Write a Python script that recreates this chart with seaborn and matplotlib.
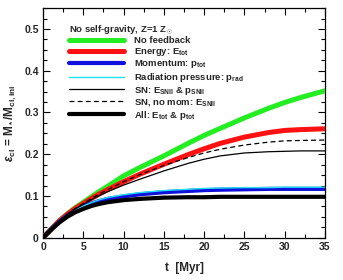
import numpy as np
import pandas as pd
import matplotlib
matplotlib.use("Agg")
import matplotlib.pyplot as plt
import seaborn as sns
from matplotlib.ticker import MultipleLocator, FixedLocator, FixedFormatter

# ---- data ----
t = [0, 1, 2, 3, 4, 5, 6, 7, 8, 10, 12, 15, 18, 20, 22, 25, 28, 30, 32, 35]
no_feedback = [0, 0.020, 0.040, 0.057, 0.072, 0.085, 0.098, 0.111, 0.123, 0.148, 0.168,
               0.196, 0.226, 0.245, 0.262, 0.287, 0.310, 0.324, 0.336, 0.352]
energy = [0, 0.020, 0.040, 0.056, 0.070, 0.082, 0.094, 0.105, 0.115, 0.134, 0.152,
          0.176, 0.199, 0.213, 0.226, 0.241, 0.252, 0.257, 0.259, 0.261]
momentum = [0, 0.020, 0.038, 0.053, 0.065, 0.074, 0.082, 0.088, 0.093, 0.099, 0.104,
            0.109, 0.112, 0.114, 0.115, 0.116, 0.117, 0.117, 0.117, 0.117]
radiation = [0, 0.020, 0.039, 0.054, 0.066, 0.076, 0.084, 0.091, 0.096, 0.103, 0.108,
             0.113, 0.116, 0.118, 0.119, 0.120, 0.120, 0.121, 0.121, 0.121]
sn_both = [0, 0.020, 0.039, 0.055, 0.069, 0.080, 0.091, 0.101, 0.110, 0.126, 0.140,
           0.160, 0.178, 0.188, 0.196, 0.203, 0.206, 0.207, 0.208, 0.208]
sn_nomom = [0, 0.020, 0.040, 0.056, 0.070, 0.082, 0.094, 0.105, 0.115, 0.134, 0.151,
            0.173, 0.192, 0.203, 0.212, 0.222, 0.229, 0.232, 0.233, 0.234]
all_fb = [0, 0.019, 0.036, 0.050, 0.061, 0.069, 0.076, 0.081, 0.085, 0.090, 0.093,
          0.096, 0.097, 0.097, 0.098, 0.098, 0.098, 0.098, 0.098, 0.098]

labels = ["No feedback", r"Energy: E$_{\rm tot}$", r"Momentum: p$_{\rm tot}$",
          r"Radiation pressure: p$_{\rm rad}$", r"SN: E$_{\rm SNII}$ & p$_{\rm SNII}$",
          r"SN, no mom: E$_{\rm SNII}$", r"All: E$_{\rm tot}$ & p$_{\rm tot}$"]
series = [no_feedback, energy, momentum, radiation, sn_both, sn_nomom, all_fb]
colors = ["#22ee22", "#ff1111", "#1111dd", "#22e0f0", "black", "black", "black"]
widths = [3.6, 3.6, 3.0, 1.0, 0.9, 0.9, 3.0]
styles = ["-", "-", "-", "-", "-", (0, (4, 2.5)), "-"]

xticks = [0, 5, 10, 15, 20, 25, 30, 35]
yticks = [0, 0.1, 0.2, 0.3, 0.4, 0.5]
yticklabels = ["0", "0.1", "0.2", "0.3", "0.4", "0.5"]

# ---- style ----
sns.set_style("ticks")
plt.rcParams["font.family"] = ["Liberation Sans", "DejaVu Sans"]
plt.rcParams["font.weight"] = "bold"
plt.rcParams["mathtext.fontset"] = "custom"
plt.rcParams["mathtext.rm"] = "Liberation Sans:bold"
plt.rcParams["mathtext.it"] = "Liberation Sans:italic:bold"
plt.rcParams["mathtext.bf"] = "Liberation Sans:bold"

fig = plt.figure(figsize=(3.43, 2.80), dpi=100)
ax = fig.add_axes([0.1254, 0.151, 0.822, 0.820])

order = [0, 1, 5, 4, 6, 2, 3]
for i in order:
    df = pd.DataFrame({"t": t, "v": series[i]})
    sns.lineplot(data=df, x="t", y="v", ax=ax, color=colors[i], linewidth=widths[i],
                 linestyle=styles[i], label=labels[i], zorder=3 + i * 0.1)

ax.set_xlim(0, 35)
ax.set_ylim(0, 0.55)
ax.xaxis.set_major_locator(FixedLocator(xticks))
ax.xaxis.set_minor_locator(MultipleLocator(2.5))
ax.yaxis.set_major_locator(FixedLocator(yticks))
ax.yaxis.set_major_formatter(FixedFormatter(yticklabels))
ax.yaxis.set_minor_locator(MultipleLocator(0.025))
ax.tick_params(which="both", direction="in", top=True, right=True, width=0.8,
               color="black", labelsize=7.5, pad=3)
ax.tick_params(which="major", length=5)
ax.tick_params(which="minor", length=2.8)
for s in ax.spines.values():
    s.set_linewidth(0.9)
    s.set_color("black")

ax.set_xlabel("t  [Myr]", fontsize=8.5, fontweight="bold", labelpad=7)
ax.set_ylabel(r"$\epsilon_{\rm cl}$ = M$_*$/M$_{\rm cl,ini}$", fontsize=8.5,
              fontweight="bold", labelpad=4)

handles, labs = ax.get_legend_handles_labels()
lookup = dict(zip(labs, handles))
h = [lookup[l] for l in labels]
leg = ax.legend(h, labels, loc="upper left", frameon=False, fontsize=6.8,
                title=r"No self-gravity, Z=1 Z$_\odot$", title_fontsize=6.8,
                handlelength=5.8, handletextpad=1.0, labelspacing=0.06,
                borderaxespad=0.3, alignment="left", bbox_to_anchor=(0.07, 0.965))
leg.get_title().set_fontweight("bold")

fig.savefig("out.png", dpi=100)
